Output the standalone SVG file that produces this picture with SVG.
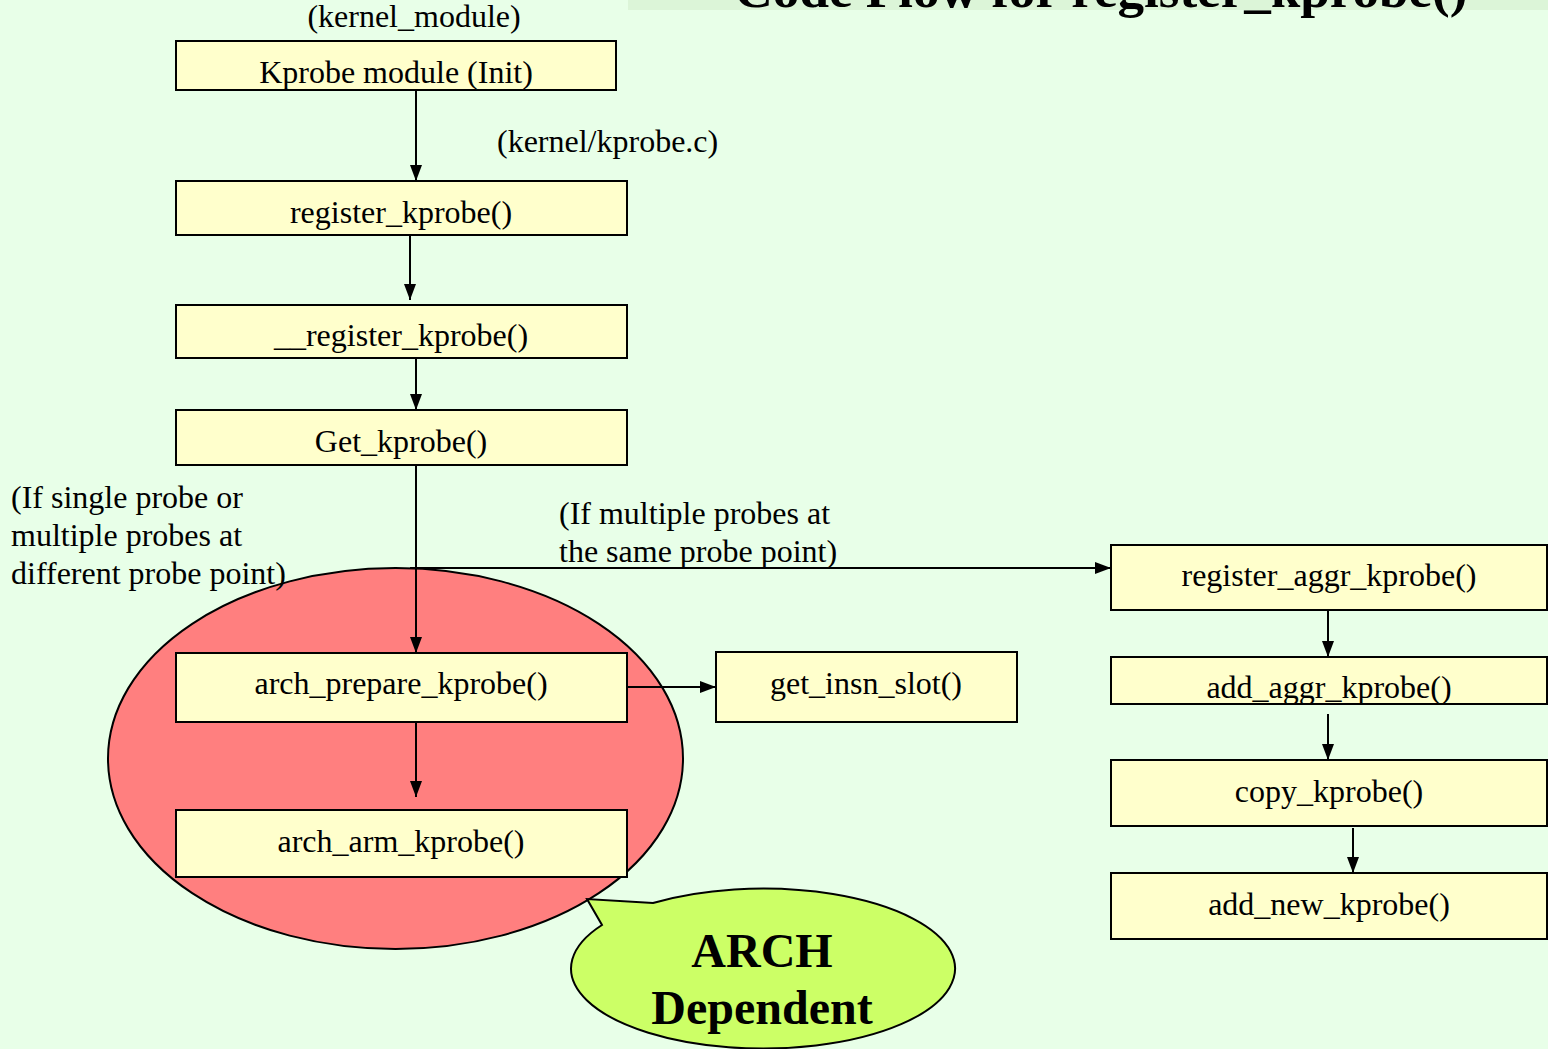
<svg xmlns="http://www.w3.org/2000/svg" width="1548" height="1049" viewBox="0 0 1548 1049">
<defs>
<style>
.bg{fill:#e8ffe8}
.box{fill:#ffffcc;stroke:#000;stroke-width:2}
.t{font-family:"Liberation Serif","Times New Roman",serif;font-size:32px;fill:#000;text-anchor:middle}
.l{font-family:"Liberation Serif","Times New Roman",serif;font-size:32px;fill:#000}
.c{fill:none;stroke:#000;stroke-width:2}
.b{font-family:"Liberation Serif","Times New Roman",serif;font-weight:bold;font-size:48px;fill:#000;text-anchor:middle}
</style>
<marker id="a" viewBox="0 0 16 12" refX="16" refY="6" markerWidth="16" markerHeight="12" markerUnits="userSpaceOnUse" orient="auto">
<path d="M0,0 L16,6 L0,12 Z" fill="#000"/>
</marker>
</defs>
<rect class="bg" x="0" y="0" width="1548" height="1049"/>
<rect x="628" y="0" width="920" height="10" fill="#dcf5d8"/>
<text x="1101" y="7" font-family="Liberation Serif,serif" font-weight="bold" font-size="50" text-anchor="middle" textLength="733" lengthAdjust="spacingAndGlyphs">Code Flow for register_kprobe()</text>

<g id="arch-region">
<ellipse cx="395.5" cy="758.5" rx="287.5" ry="190.5" fill="#ff7f7f" stroke="#000" stroke-width="2"/>
</g>

<g id="connectors">
<line class="c" x1="416" y1="90" x2="416" y2="181" marker-end="url(#a)"/>
<line class="c" x1="410" y1="235" x2="410" y2="300" marker-end="url(#a)"/>
<line class="c" x1="416" y1="358" x2="416" y2="410" marker-end="url(#a)"/>
<line class="c" x1="416" y1="465" x2="416" y2="653" marker-end="url(#a)"/>
<line class="c" x1="410" y1="568" x2="1111" y2="568" marker-end="url(#a)"/>
<line class="c" x1="627" y1="687" x2="716" y2="687" marker-end="url(#a)"/>
<line class="c" x1="416" y1="722" x2="416" y2="797" marker-end="url(#a)"/>
<line class="c" x1="1328" y1="610" x2="1328" y2="657" marker-end="url(#a)"/>
<line class="c" x1="1328" y1="714" x2="1328" y2="760" marker-end="url(#a)"/>
<line class="c" x1="1353" y1="828" x2="1353" y2="873" marker-end="url(#a)"/>
</g>

<g id="lbl-kernel-module"><text class="t" x="414" y="27">(kernel_module)</text></g>
<g id="n-kprobe-module"><rect class="box" x="176" y="41" width="440" height="49"/><text class="t" x="396" y="83">Kprobe module (Init)</text></g>
<g id="lbl-kprobe-c"><text class="l" x="497" y="152">(kernel/kprobe.c)</text></g>
<g id="n-register-kprobe"><rect class="box" x="176" y="181" width="451" height="54"/><text class="t" x="401" y="223">register_kprobe()</text></g>
<g id="n-__register-kprobe"><rect class="box" x="176" y="305" width="451" height="53"/><text class="t" x="401" y="346">__register_kprobe()</text></g>
<g id="n-get-kprobe"><rect class="box" x="176" y="410" width="451" height="55"/><text class="t" x="401" y="452">Get_kprobe()</text></g>
<g id="lbl-single"><text class="l" x="11" y="508">(If single probe or</text><text class="l" x="11" y="546">multiple probes at</text><text class="l" x="11" y="584">different probe point)</text></g>
<g id="lbl-multiple"><text class="l" x="559" y="524">(If multiple probes at</text><text class="l" x="559" y="562">the same probe point)</text></g>
<g id="n-arch-prepare"><rect class="box" x="176" y="653" width="451" height="69"/><text class="t" x="401" y="694">arch_prepare_kprobe()</text></g>
<g id="n-arch-arm"><rect class="box" x="176" y="810" width="451" height="67"/><text class="t" x="401" y="852">arch_arm_kprobe()</text></g>
<g id="n-get-insn-slot"><rect class="box" x="716" y="652" width="301" height="70"/><text class="t" x="866" y="694">get_insn_slot()</text></g>
<g id="n-register-aggr"><rect class="box" x="1111" y="545" width="436" height="65"/><text class="t" x="1329" y="586">register_aggr_kprobe()</text></g>
<g id="n-add-aggr"><rect class="box" x="1111" y="657" width="436" height="47"/><text class="t" x="1329" y="698">add_aggr_kprobe()</text></g>
<g id="n-copy"><rect class="box" x="1111" y="760" width="436" height="66"/><text class="t" x="1329" y="802">copy_kprobe()</text></g>
<g id="n-add-new"><rect class="box" x="1111" y="873" width="436" height="66"/><text class="t" x="1329" y="915">add_new_kprobe()</text></g>

<g id="callout">
<path d="M653,903 A192,80 0 1 1 602,925 L587,899 Z" fill="#ccff66" stroke="#000" stroke-width="2"/>
<text class="b" x="762" y="967">ARCH</text>
<text class="b" x="762" y="1024">Dependent</text>
</g>
</svg>
